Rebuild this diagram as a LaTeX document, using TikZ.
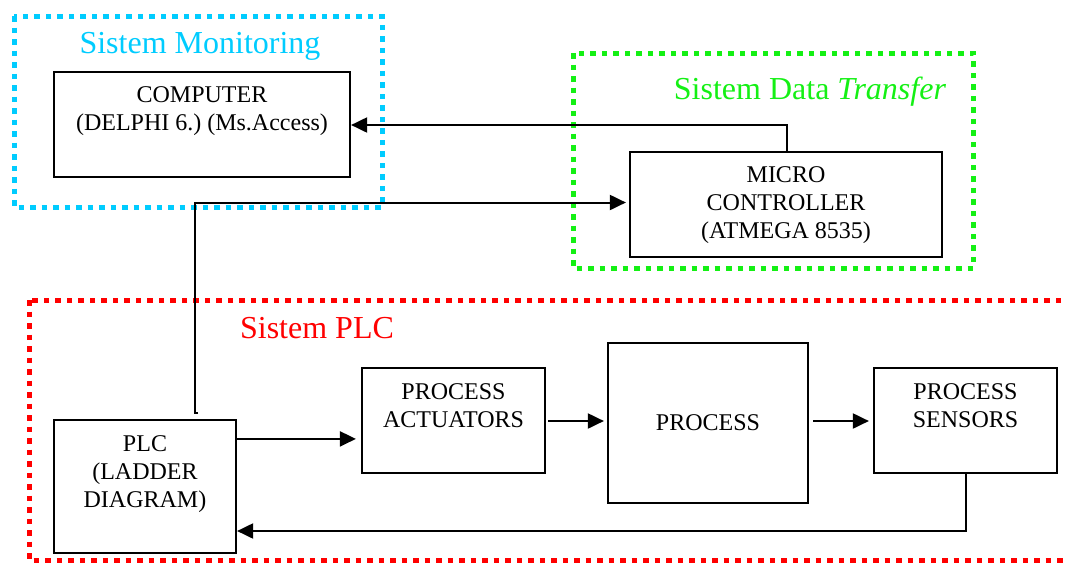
\documentclass[tikz,border=0pt]{standalone}
\usepackage{fontspec}
\setmainfont{Liberation Serif}
\usetikzlibrary{arrows.meta,calc}

\definecolor{monblue}{RGB}{0,204,255}
\definecolor{xfergreen}{RGB}{20,240,20}
\definecolor{plcred}{RGB}{255,0,0}

\tikzset{
  blockbox/.style={draw=black, line width=2.2pt, inner sep=0pt},
  blocktext/.style={align=center, inner sep=0pt, font=\fontsize{24}{28}\selectfont\frenchspacing},
  grouptitle/.style={inner sep=0pt, font=\fontsize{32}{36}\selectfont},
  groupframe/.style={line width=5pt, dash pattern=on 5.5pt off 6pt},
  flow/.style={line width=2pt, -{Triangle[length=16pt,width=15pt]}},
  wire/.style={line width=2pt}
}

\begin{document}
\begin{tikzpicture}[x=1pt, y=-1pt]
  \useasboundingbox (0,0) rectangle (1066,563);
  \clip (0,0) rectangle (1066,563);

  % group frames
  \draw[groupframe, monblue] (14,16) rectangle (382,207);
  \draw[groupframe, xfergreen] (573,53) rectangle (973,268);
  \draw[groupframe, plcred] (29,300) rectangle (1090,560);

  % group titles
  \node[grouptitle, text=monblue] (tmon) at (200,46) {Sistem Monitoring};
  \node[grouptitle, text=xfergreen] (txfer) at (810,92) {Sistem Data \textit{Transfer}};
  \node[grouptitle, text=plcred] (tplc) at (317,328) {Sistem PLC};

  % blocks
  \node[blockbox, minimum width=296pt, minimum height=105pt] (comp) at (202,124.5) {};
  \node[blockbox, minimum width=312pt, minimum height=105pt] (mc) at (786,204.5) {};
  \node[blockbox, minimum width=182pt, minimum height=133pt] (plc) at (145,486.5) {};
  \node[blockbox, minimum width=183pt, minimum height=105pt] (act) at (453.5,420.5) {};
  \node[blockbox, minimum width=200pt, minimum height=160pt] (proc) at (708,423) {};
  \node[blockbox, minimum width=183pt, minimum height=105pt] (sens) at (965.5,420.5) {};

  % block labels
  \node[blocktext] (compt) at (202,111) {COMPUTER\\(DELPHI 6.) (Ms.Access)};
  \node[blocktext] (mct) at (786,205) {MICRO\\CONTROLLER\\(ATMEGA 8535)};
  \node[blocktext] (plct) at (145,474) {PLC\\(LADDER\\DIAGRAM)};
  \node[blocktext] (actt) at (453.5,406) {PROCESS\\ACTUATORS};
  \node[blocktext] (proct) at (708,423) {PROCESS};
  \node[blocktext] (senst) at (965.5,406) {PROCESS\\SENSORS};

  % connectors
  \coordinate (plctap) at (198,413);
  \draw[flow] (plctap) -- ++(-3,0) |- ($(mc.west)+(-3,-2)$);
  \draw[flow] ($(mc.north)+(1,0)$) |- ($(comp.east)+(0,0.5)$);
  \draw[flow] ($(plc.north east)+(0,20)$) -- ($(act.west |- plc.north east)+(-5,20)$);
  \draw[flow] ($(act.east)+(2,0.5)$) -- ($(proc.west |- act.east)+(-3,0.5)$);
  \draw[flow] ($(proc.east |- sens.west)+(4,0.5)$) -- ($(sens.west)+(-4,0.5)$);
  \draw[flow] (sens.south) |- ($(plc.east |- 0,531)$);
\end{tikzpicture}
\end{document}
